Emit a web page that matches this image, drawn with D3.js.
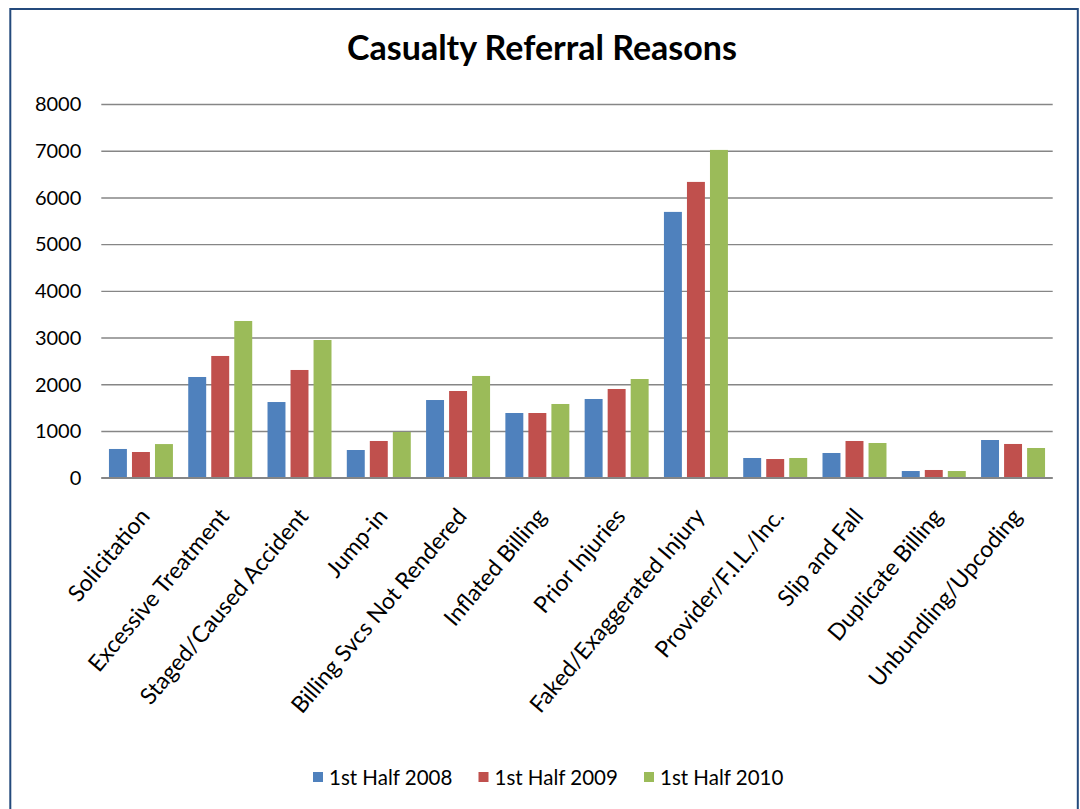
<!DOCTYPE html>
<html>
<head>
<meta charset="utf-8">
<script src="https://cdn.jsdelivr.net/npm/d3@7"></script>
<style>
  body { margin: 0; background: #fff; }
  text { font-family: Lato, "Open Sans", sans-serif; fill: #000; }
</style>
</head>
<body>
<script>
const categories = [
  "Solicitation", "Excessive Treatment", "Staged/Caused Accident", "Jump-in",
  "Billing Svcs Not Rendered", "Inflated Billing", "Prior Injuries",
  "Faked/Exaggerated Injury", "Provider/F.I.L./Inc.", "Slip and Fall",
  "Duplicate Billing", "Unbundling/Upcoding"
];
const seriesNames = ["1st Half 2008", "1st Half 2009", "1st Half 2010"];
const half2008 = [615, 2156, 1620, 593, 1663, 1385, 1685, 5690, 422, 529, 143, 807];
const half2009 = [550, 2606, 2306, 786, 1856, 1385, 1899, 6332, 400, 786, 165, 722];
const half2010 = [720, 3355, 2948, 979, 2178, 1578, 2113, 7017, 422, 743, 143, 636];
const yTicks = [0, 1000, 2000, 3000, 4000, 5000, 6000, 7000, 8000];
const colors = ["#4f81bd", "#c0504d", "#9bbb59"];

const W = 1080, H = 809;
const margin = { left: 101.3, right: 1052.7, top: 104, bottom: 477.7 };

const svg = d3.select("body").append("svg")
  .attr("width", W)
  .attr("height", H);

svg.append("rect").attr("width", W).attr("height", H).attr("fill", "#fff");

// outer chart border
svg.append("rect")
  .attr("x", 10.3).attr("y", 9)
  .attr("width", 1067.5).attr("height", 830)
  .attr("fill", "none")
  .attr("stroke", "#244a7c")
  .attr("stroke-width", 2);

svg.append("text")
  .attr("x", 542).attr("y", 60)
  .attr("text-anchor", "middle")
  .style("font-size", "34px")
  .style("font-weight", "bold")
  .text("Casualty Referral Reasons");

const x0 = d3.scaleBand()
  .domain(categories)
  .range([margin.left, margin.right])
  .paddingInner(0.193)
  .paddingOuter(0.0965);

const x1 = d3.scaleBand()
  .domain(seriesNames)
  .range([0, x0.bandwidth()])
  .paddingInner(0.22);

const y = d3.scaleLinear()
  .domain([0, 8000])
  .range([margin.bottom, margin.top]);

// gridlines + y labels
const yAxis = d3.axisLeft(y)
  .tickValues(yTicks)
  .tickSize(-(margin.right - margin.left))
  .tickPadding(20)
  .tickFormat(d3.format("d"));

const gy = svg.append("g")
  .attr("transform", `translate(${margin.left},0)`)
  .call(yAxis);
gy.select(".domain").remove();
gy.selectAll(".tick line").attr("stroke", "#868686").attr("stroke-width", 1.4);
gy.selectAll(".tick text")
  .style("font-size", "20px")
  .attr("dy", "0.34em");

const table = categories.map((c, i) => ({
  cat: c,
  vals: [half2008[i], half2009[i], half2010[i]]
}));

const groups = svg.append("g").selectAll("g")
  .data(table)
  .join("g")
  .attr("transform", d => `translate(${x0(d.cat)},0)`);

groups.selectAll("rect")
  .data(d => d.vals.map((v, k) => ({ key: seriesNames[k], v: v, k: k })))
  .join("rect")
  .attr("x", d => x1(d.key))
  .attr("y", d => y(d.v))
  .attr("width", x1.bandwidth())
  .attr("height", d => y(0) - y(d.v))
  .attr("fill", d => colors[d.k]);

// x axis line
svg.append("line")
  .attr("x1", margin.left).attr("x2", margin.right)
  .attr("y1", y(0)).attr("y2", y(0))
  .attr("stroke", "#868686")
  .attr("stroke-width", 1.6);

// category labels, rotated
svg.append("g").selectAll("text")
  .data(categories)
  .join("text")
  .attr("text-anchor", "end")
  .attr("transform", d => `translate(${x0(d) + x0.bandwidth() / 2 + 10},517) rotate(-50)`)
  .style("font-size", "23px")
  .text(d => d);

// legend
const legend = svg.append("g").selectAll("g")
  .data(seriesNames)
  .join("g")
  .attr("transform", (d, i) => `translate(${313 + i * 165.5},772)`);

legend.append("rect")
  .attr("width", 10).attr("height", 10)
  .attr("fill", (d, i) => colors[i]);

legend.append("text")
  .attr("x", 16).attr("y", 12.5)
  .style("font-size", "20.5px")
  .text(d => d);
</script>
</body>
</html>
